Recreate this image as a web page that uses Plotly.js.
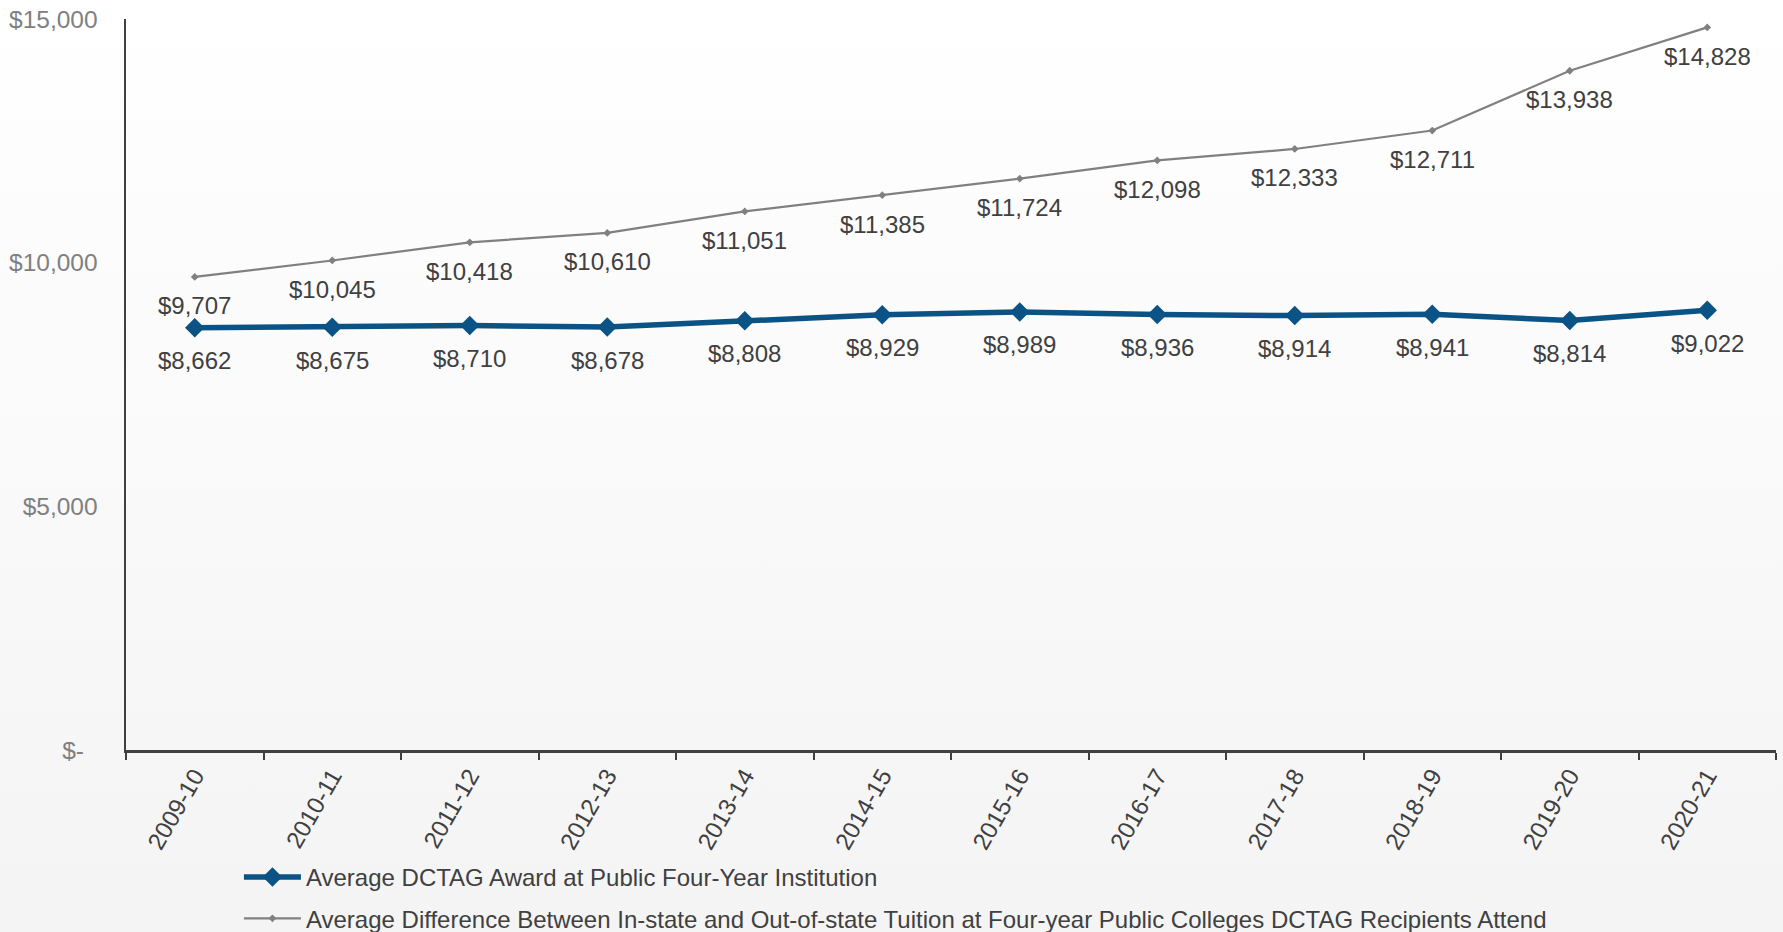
<!DOCTYPE html>
<html>
<head>
<meta charset="utf-8">
<script src="https://cdn.plot.ly/plotly-3.0.1.min.js"></script>
<style>
  html, body { margin: 0; padding: 0; width: 1783px; height: 932px; overflow: hidden;
    background: linear-gradient(to bottom, #ffffff 0%, #f4f4f4 100%); }
  #chart { width: 1783px; height: 932px; }
</style>
</head>
<body>
<div id="chart"></div>
<script>
const years = ["2009-10","2010-11","2011-12","2012-13","2013-14","2014-15","2015-16","2016-17","2017-18","2018-19","2019-20","2020-21"];
const awardValues = [8662, 8675, 8710, 8678, 8808, 8929, 8989, 8936, 8914, 8941, 8814, 9022];
const tuitionDiffValues = [9707, 10045, 10418, 10610, 11051, 11385, 11724, 12098, 12333, 12711, 13938, 14828];
const yTickVals = [0, 5000, 10000, 15000];
const yTickText = ["$-\u00a0\u00a0", "$5,000", "$10,000", "$15,000"];
const awardName = "Average DCTAG Award at Public Four-Year Institution";
const diffName = "Average Difference Between In-state and Out-of-state Tuition at Four-year Public Colleges DCTAG Recipients Attend";

const fmt = v => "$" + v.toLocaleString("en-US");
const labelFont = { family: "Liberation Sans, Arial, sans-serif", size: 24, color: "#404040" };

const traces = [
  {
    x: years, y: awardValues, name: awardName, legendgroup: "a",
    type: "scatter", mode: "lines+markers",
    line: { color: "#0B5384", width: 5.5 },
    marker: { symbol: "diamond", size: 15, color: "#0B5384" },
    cliponaxis: false
  },
  {
    x: years, y: tuitionDiffValues, name: diffName, legendgroup: "b",
    type: "scatter", mode: "lines+markers",
    line: { color: "#808080", width: 2.2 },
    marker: { symbol: "diamond", size: 6, color: "#808080" },
    cliponaxis: false
  }
];

const annotations = [];
years.forEach((yr, i) => {
  annotations.push({ x: yr, y: awardValues[i], xref: "x", yref: "y", text: fmt(awardValues[i]),
    showarrow: false, yanchor: "middle", xanchor: "center", yshift: -33, font: labelFont });
  annotations.push({ x: yr, y: tuitionDiffValues[i], xref: "x", yref: "y", text: fmt(tuitionDiffValues[i]),
    showarrow: false, yanchor: "middle", xanchor: "center", yshift: -29, font: labelFont });
});

const layout = {
  width: 1783, height: 932,
  paper_bgcolor: "rgba(0,0,0,0)", plot_bgcolor: "rgba(0,0,0,0)",
  margin: { l: 126, r: 7, t: 19, b: 182, autoexpand: false },
  font: { family: "Liberation Sans, Arial, sans-serif", color: "#404040" },
  showlegend: true,
  annotations: annotations,
  xaxis: {
    type: "category", showgrid: false, zeroline: false, automargin: false,
    showline: true, linecolor: "#404040", linewidth: 2.5,
    ticks: "outside", tickson: "boundaries", ticklen: 7, tickwidth: 2, tickcolor: "#404040",
    tickangle: -60, tickfont: { size: 24, color: "#404040" },
    range: [-0.5, 11.5]
  },
  yaxis: {
    range: [0, 15000], showgrid: false, zeroline: false, automargin: false,
    showline: true, linecolor: "#404040", linewidth: 2.5,
    ticks: "", tickvals: yTickVals, ticktext: yTickText,
    ticklabelstandoff: 21,
    tickfont: { size: 24.5, color: "#808080" }
  },
  legend: {
    orientation: "v", xref: "container", yref: "container",
    x: 0.134, xanchor: "left", y: 0.0826, yanchor: "top",
    bgcolor: "rgba(0,0,0,0)",
    font: { family: "Liberation Sans, Arial, sans-serif", size: 24, color: "#404040" },
    traceorder: "grouped", tracegroupgap: 7, itemwidth: 57
  }
};

Plotly.newPlot("chart", traces, layout, { displayModeBar: false, staticPlot: true });
</script>
</body>
</html>
